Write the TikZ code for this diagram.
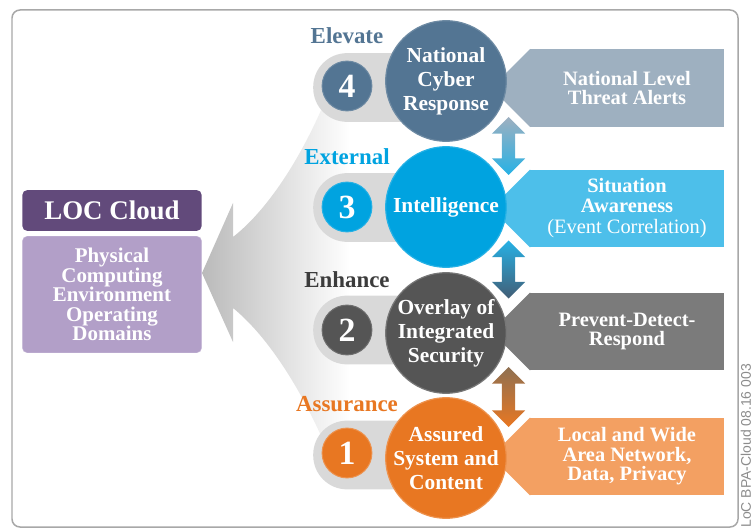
\documentclass[tikz,border=0pt]{standalone}
\usepackage{fontspec}
\setmainfont{Liberation Serif}
\newfontfamily\tagfont{Liberation Sans}
\usetikzlibrary{positioning,shapes.arrows}
\definecolor{elevblue}{HTML}{537593}
\definecolor{elevbox}{HTML}{9EB0C0}
\definecolor{extcyan}{HTML}{00A3E0}
\definecolor{extbox}{HTML}{4DBFEA}
\definecolor{enhgray}{HTML}{555555}
\definecolor{enhtext}{HTML}{3C3C3C}
\definecolor{enhbox}{HTML}{7B7B7B}
\definecolor{assorange}{HTML}{E87722}
\definecolor{assbox}{HTML}{F3A062}
\definecolor{locdark}{HTML}{624A7B}
\definecolor{loclight}{HTML}{B29FC8}
\definecolor{pillgray}{HTML}{D9D9D9}
\definecolor{framegray}{HTML}{A8A8A8}
\begin{document}
\begin{tikzpicture}[x=1bp, y=-1bp,
	pill/.style={fill=pillgray, rounded corners=34, minimum width=130, minimum height=69, anchor=west, inner sep=0},
	num/.style={circle, minimum size=50, inner sep=0, text=white, line width=1, font=\fontsize{34}{34}\selectfont\bfseries},
	level/.style={circle, minimum size=121, inner sep=0, line width=1.2},
	circtext/.style={align=center, text=white, inner sep=0, font=\fontsize{21.5}{24}\selectfont\bfseries},
	tag/.style={inner sep=0, font=\fontsize{23}{23}\selectfont\bfseries},
	result/.style={rectangle, minimum width=194, minimum height=78, inner sep=0, align=center, text=white, font=\fontsize{20.5}{19.5}\selectfont\bfseries},
	link/.style={double arrow, double arrow head extend=10bp, minimum width=33bp, minimum height=58bp, inner sep=6.5bp, shape border rotate=90}]
	\useasboundingbox (0,0) rectangle (755,529);
	\draw[framegray, line width=1.5, rounded corners=8] (12,10) rectangle (738,527);

	\shade[left color=black!27, right color=white] (202,273) -- (233,203) -- (233,237) .. controls (265,212) and (297,165) .. (322,108) -- (350,108) -- (350,438) -- (322,438) .. controls (297,382) and (265,334) .. (233,308) -- (233,342) -- cycle;

	\node[fill=locdark, rounded corners=5, minimum width=180, minimum height=41, text=white, font=\fontsize{27}{27}\selectfont\bfseries] (loc) at (112,210.5) {LOC Cloud};
	\node[fill=loclight, draw=loclight!70!white, rounded corners=5, minimum width=180, minimum height=117, align=center, text=white, font=\fontsize{21}{19.5}\selectfont\bfseries] (domains) at (112,294.5) {Physical\\Computing\\Environment\\Operating\\Domains};

	\node[pill] (pill4) at (313,87.5) {};
	\node[pill] (pill3) at (313,207.5) {};
	\node[pill] (pill2) at (313,330) {};
	\node[pill] (pill1) at (313,455) {};

	\node[num, fill=elevblue, draw=elevblue!85!white] (n4) at (347,86) {4};
	\node[num, fill=extcyan, draw=extcyan!85!white] (n3) at (347,207) {3};
	\node[num, fill=enhgray, draw=enhgray!85!white] (n2) at (347,330) {2};
	\node[num, fill=assorange, draw=assorange!80!white] (n1) at (347,453) {1};

	\node[tag, text=elevblue, above=17bp of n4] (elevate) {Elevate};
	\node[tag, text=extcyan, above=17bp of n3] (external) {External};
	\node[tag, text=enhtext, above=17bp of n2] (enhance) {Enhance};
	\node[tag, text=assorange, above=16bp of n1] (assurance) {Assurance};

	\node[result, fill=elevbox] (alerts) at (627,88) {National Level\\Threat Alerts};
	\node[result, fill=extbox] (awareness) at (627,208.5) {Situation\\Awareness\\[2pt]{\mdseries (Event Correlation)}};
	\node[result, fill=enhbox] (pdr) at (627,331.5) {Prevent-Detect-\\Respond};
	\node[result, fill=assbox] (network) at (627,456.5) {Local and Wide\\Area Network,\\Data, Privacy};
	\fill[elevbox] (alerts.north west) -- ([xshift=-39]alerts.west) -- (alerts.south west) -- cycle;
	\fill[extbox] (awareness.north west) -- ([xshift=-39]awareness.west) -- (awareness.south west) -- cycle;
	\fill[enhbox] (pdr.north west) -- ([xshift=-39]pdr.west) -- (pdr.south west) -- cycle;
	\fill[assbox] (network.north west) -- ([xshift=-39]network.west) -- (network.south west) -- cycle;

	\node[level, fill=elevblue, draw=elevblue!85!white] (cyber) at (446,81) {};
	\node[level, fill=extcyan, draw=extcyan!85!white] (intel) at (446,207) {};
	\node[level, fill=enhgray, draw=enhgray!80!white] (overlay) at (446,333) {};
	\node[level, fill=assorange, draw=assorange!80!white] (assured) at (446,458) {};
	\node[circtext] (cybertext) at (cyber) {National\\Cyber\\Response};
	\node[circtext] (inteltext) at (intel) {Intelligence};
	\node[circtext] (overlaytext) at (overlay) {Overlay of\\Integrated\\Security};
	\node[circtext] (assuredtext) at (assured) {Assured\\System and\\Content};

	\node[link, top color=elevbox, bottom color=extcyan!85] (up43) at (508.5,146) {};
	\node[link, top color=extcyan!85, bottom color=elevblue!80!black] (up32) at (508.5,269.5) {};
	\node[link, minimum height=60bp, top color=brown!60!black!80, bottom color=assorange] (up21) at (508.5,397) {};

	\node[rotate=90, anchor=east, inner sep=0, text=black!45, font=\tagfont\fontsize{14}{14}\selectfont] (fileid) at (746,364) {LoC BPA-Cloud 08.16 003};
\end{tikzpicture}
\end{document}
